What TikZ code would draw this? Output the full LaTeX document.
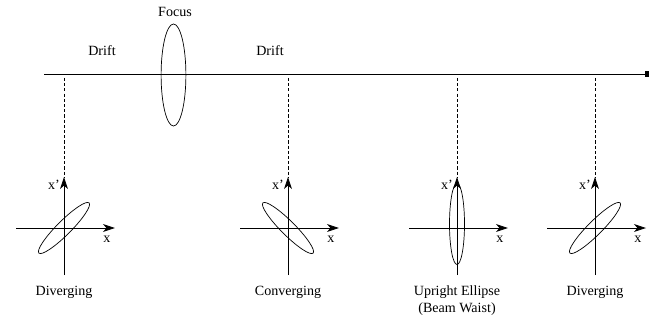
\documentclass[tikz,border=0pt]{standalone}
\usepackage{fontspec}
\setmainfont{Liberation Serif}
\usetikzlibrary{arrows.meta,positioning,shapes.geometric}

\begin{document}
\begin{tikzpicture}[
    x=0.025cm, y=-0.025cm,
    >={Stealth[length=8.5pt,width=5.6pt,inset=2.4pt]}, font=\normalsize,
    beam/.style={line width=0.5pt},
    guide/.style={line width=0.5pt, dash pattern=on 2.2pt off 1.5pt},
    axis/.style={->, line width=0.6pt},
    phase/.style={line width=0.5pt},
    lens/.style={draw, ellipse, line width=0.5pt, inner sep=0pt,
                 minimum width=0.62cm, minimum height=2.55cm},
    tag/.style={inner sep=1pt},
]
\useasboundingbox (0,0) rectangle (650,321);

% Beam line with the focusing element
\coordinate (bs) at (44,74);
\coordinate (be) at (649,74);
\draw[beam, -{Square[length=2.5pt,width=4.5pt]}] (bs) -- (be);
\node[lens] (lens) at (173.5,75) {};
\node[tag] (focus) at (175,12) {Focus};
\node[tag] (drift1) at (102,51) {Drift};
\node[tag] (drift2) at (270,51) {Drift};

% Phase-space axes below the beam line
\foreach \i/\px in {1/64, 2/288, 3/457, 4/595} {
  \coordinate (o\i) at (\px,228);
  \coordinate (top\i) at (\px,78);
  \coordinate (xl\i) at (\px-48,228);
  \coordinate (xr\i) at (\px+51,228);
  \coordinate (yb\i) at (\px,275);
  \coordinate (yt\i) at (\px,177);
  \draw[guide] (top\i) -- (yt\i);
  \draw[axis] (xl\i) -- (xr\i);
  \draw[axis] (yb\i) -- (yt\i);
  \node[tag] (xp\i) at (\px-10,185) {x'};
  \node[tag] (xx\i) at (\px+43,239) {x};
}

% Phase-space ellipses
\draw[phase, rotate around={45:(o1)}] (o1) ellipse [x radius=35.5, y radius=7];
\draw[phase, rotate around={-45:(o2)}] (o2) ellipse [x radius=35.5, y radius=7];
\coordinate (c3) at (457,224);
\draw[phase] (c3) ellipse [x radius=7.5, y radius=40.5];
\draw[phase, rotate around={45:(o4)}] (o4) ellipse [x radius=35.5, y radius=7];

% Labels
\node[tag] (div1) at (64,292) {Diverging};
\node[tag] (conv) at (288,292) {Converging};
\node[tag, align=center] (waist) at (457,301) {Upright Ellipse\\(Beam Waist)};
\node[tag] (div2) at (595,292) {Diverging};
\end{tikzpicture}
\end{document}
